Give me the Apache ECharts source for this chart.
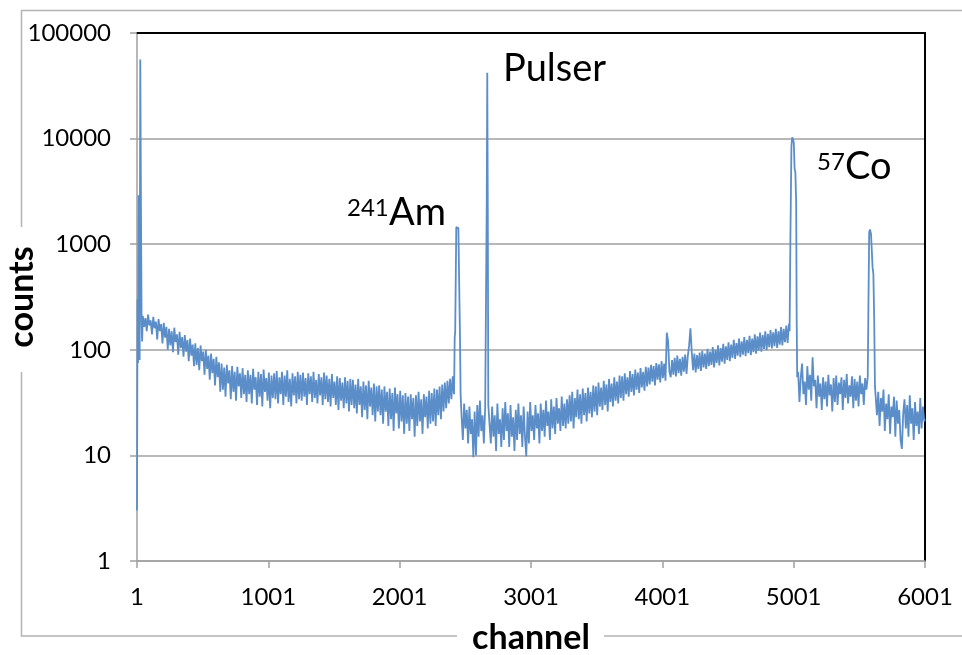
<!DOCTYPE html>
<html>
<head>
<meta charset="utf-8">
<script src="https://cdn.jsdelivr.net/npm/echarts@6/dist/echarts.min.js"></script>
<style>
html,body{margin:0;padding:0;background:#fff;}
#chart{width:962px;height:655px;}
</style>
</head>
<body>
<div id="chart"></div>
<script>
// ---- data ----
const xTicks = [1, 1001, 2001, 3001, 4001, 5001, 6001];
const yTicks = [1, 10, 100, 1000, 10000, 100000];
const bandStep = 10;

const startChannels = [1, 5, 9, 13, 17, 21, 26, 31, 36, 40];
const startCounts   = [3, 300, 75, 2900, 1500, 80, 56000, 2500, 180, 120];

const band1Start = 45;
const band1 = [
  210, 165, 200, 150, 215, 170, 190, 140, 205, 160, 185, 125, 195, 150, 175, 115, 180, 130, 165, 100,
  158, 110, 150, 95, 162, 118, 140, 90, 148, 104, 132, 86, 138, 96, 124, 78, 128, 88, 112, 70,
  115, 72, 104, 64, 110, 78, 96, 58, 100, 66, 88, 52, 92, 60, 82, 46, 86, 55, 76, 40,
  74, 42, 68, 36, 72, 48, 64, 34, 70, 40, 62, 33, 69, 45, 60, 35, 67, 38, 58, 32,
  64, 38, 58, 31, 66, 42, 55, 30, 62, 36, 59, 29, 65, 40, 54, 33, 61, 28, 57, 35,
  60, 34, 63, 31, 55, 38, 62, 30, 57, 36, 64, 32, 53, 29, 60, 37, 56, 31, 62, 34,
  58, 33, 61, 36, 54, 30, 60, 38, 56, 32, 62, 35, 52, 31, 59, 37, 55, 30, 61, 34,
  57, 32, 53, 29, 59, 35, 50, 30, 56, 27, 54, 33, 49, 28, 55, 31, 51, 26, 53, 30,
  52, 28, 47, 25, 53, 30, 45, 23, 50, 27, 46, 22, 51, 29, 44, 24, 48, 21, 45, 26,
  46, 24, 42, 20, 45, 26, 40, 19, 43, 22, 39, 17, 44, 25, 38, 18, 41, 21, 37, 16,
  39, 20, 36, 17, 38, 22, 35, 15, 37, 19, 40, 21, 34, 16, 38, 23, 36, 18, 41, 20,
  39, 21, 43, 19, 42, 24, 45, 22, 47, 26, 49, 28, 51, 31, 53, 34, 56, 38
];

const amChannels = [2420, 2424, 2432, 2440, 2448, 2456, 2460, 2465];
const amCounts   = [130, 150, 1450, 1480, 1420, 1380, 140, 38];

const band2Start = 2472;
const band2 = [24, 14, 31, 18, 27, 13, 29, 16, 22, 9.6, 26, 10, 30, 15, 33, 17, 24, 13, 28];

const pulserChannels = [2660, 2664, 2668, 2672, 2676];
const pulserCounts   = [28, 2500, 42000, 2200, 30];

const band3Start = 2685;
const band3 = [
  20, 13, 29, 15, 24, 11, 31, 16, 22, 12, 28, 14, 32, 17, 25, 12, 30, 15, 23, 11,
  27, 14, 31, 16, 24, 12, 29, 15, 9.8, 26, 13, 32, 17, 24, 14, 30, 18, 25, 13, 31,
  17, 27, 15, 33, 19, 26, 14, 34, 18, 29, 16, 35, 20, 28, 17, 36, 19, 31, 18, 34,
  20, 37, 21, 40, 18, 35, 23, 42, 22, 38, 20, 43, 24, 39, 21, 44, 25, 40, 23, 46,
  26, 45, 24, 49, 29, 44, 27, 51, 30, 47, 26, 53, 32, 48, 29, 55, 33, 50, 31, 57,
  35, 56, 33, 60, 38, 55, 36, 63, 40, 59, 37, 65, 42, 61, 39, 67, 44, 62, 41, 69,
  45, 68, 47, 72, 50, 70, 46, 75, 52, 73, 49, 78, 54, 74, 51, 145, 120, 62, 55, 80,
  58, 84, 56, 88, 60, 82, 57, 86, 62, 90, 59, 87, 110, 160, 95, 64, 92, 61, 89, 66,
  94, 63, 98, 68, 92, 66, 102, 70, 96, 72, 106, 68, 100, 75, 110, 71, 104, 77, 114, 74,
  108, 80, 118, 78, 112, 84, 124, 82, 116, 88, 128, 85, 120, 90, 132, 87, 124, 93, 136, 89,
  128, 95, 140, 92, 134, 98, 146, 96, 138, 102, 150, 99, 142, 106, 154, 103, 146, 108, 158, 104,
  150, 112, 164, 110, 158, 118, 170, 116, 176
];

const co1Channels = [4970, 4976, 4984, 4990, 4996, 5002, 5008, 5014, 5020, 5024, 5028];
const co1Counts   = [150, 1100, 8500, 10300, 9800, 9200, 5200, 4800, 2500, 190, 55];

const band4Start = 5035;
const band4 = [
  62, 32, 55, 74, 38, 50, 30, 70, 42, 58, 33, 85, 45, 52, 28, 57, 36, 48, 27, 55,
  34, 50, 29, 58, 37, 47, 26, 54, 32, 57, 30, 49, 38, 55, 27, 52, 35, 59, 31, 46,
  36, 56, 28, 53, 33, 50, 29, 57, 38, 48, 30, 54, 42
];

const co2Channels = [5565, 5570, 5576, 5582, 5590, 5596, 5602, 5608, 5614, 5620];
const co2Counts   = [55, 240, 1300, 1380, 1250, 1200, 600, 520, 200, 45];

const band5Start = 5625;
const band5 = [
  46, 24, 40, 19, 35, 26, 42, 17, 31, 22, 38, 16, 29, 23, 36, 15, 33, 20, 27, 14,
  11.5, 25, 34, 18, 30, 15, 37, 20, 28, 14, 32, 19, 26, 16, 35, 18, 29, 21
];
const endChannels = [6001];
const endCounts = [22];

// ---- build series data ----
function pairs(chs, vals) { return chs.map((c, i) => [c, vals[i]]); }
function band(start, vals) { return vals.map((v, i) => [start + i * bandStep, v]); }

const spectrum = [].concat(
  pairs(startChannels, startCounts),
  band(band1Start, band1),
  pairs(amChannels, amCounts),
  band(band2Start, band2),
  pairs(pulserChannels, pulserCounts),
  band(band3Start, band3),
  pairs(co1Channels, co1Counts),
  band(band4Start, band4),
  pairs(co2Channels, co2Counts),
  band(band5Start, band5),
  pairs(endChannels, endCounts)
);

const FONT = 'Lato, "Open Sans", sans-serif';
const GRAY = '#a0a0a0';

const chart = echarts.init(document.getElementById('chart'), null, {renderer: 'canvas'});
chart.setOption({
  animation: false,
  backgroundColor: '#fff',
  grid: {left: 137, right: 37, top: 33, bottom: 94, containLabel: false, outerBoundsMode: 'none'},
  xAxis: [{
    type: 'value', min: 1, max: 6001,
    name: 'channel', nameLocation: 'middle', nameGap: 60, nameMoveOverlap: false,
    nameTextStyle: {fontFamily: FONT, fontSize: 34, fontWeight: 'bold', color: '#000'},
    axisLine: {show: true, onZero: false, lineStyle: {color: GRAY, width: 1.5}},
    axisTick: {show: true, length: 7, lineStyle: {color: GRAY, width: 1.5}, customValues: xTicks},
    axisLabel: {fontFamily: FONT, fontSize: 24, color: '#000', margin: 24, customValues: xTicks,
      formatter: v => String(v)},
    splitLine: {show: false}
  }, {
    type: 'value', min: 1, max: 6001, position: 'top',
    axisLine: {show: true, onZero: false, lineStyle: {color: '#000', width: 2}},
    axisTick: {show: false}, axisLabel: {show: false}, splitLine: {show: false}
  }],
  yAxis: [{
    type: 'log', logBase: 10, min: yTicks[0], max: yTicks[yTicks.length - 1],
    name: 'counts', nameLocation: 'middle', nameGap: 98, nameRotate: 90, nameMoveOverlap: false,
    nameTextStyle: {fontFamily: FONT, fontSize: 34, fontWeight: 'bold', color: '#000'},
    axisLine: {show: true, onZero: false, lineStyle: {color: GRAY, width: 1.5}},
    axisTick: {show: true, length: 7, lineStyle: {color: GRAY, width: 1.5}},
    axisLabel: {fontFamily: FONT, fontSize: 24, color: '#000', margin: 26, formatter: v => String(v)},
    splitLine: {show: true, lineStyle: {color: GRAY, width: 1.5}}
  }, {
    type: 'log', logBase: 10, min: 1, max: 100000, position: 'right',
    axisLine: {show: true, onZero: false, lineStyle: {color: '#000', width: 2}},
    axisTick: {show: false}, axisLabel: {show: false}, splitLine: {show: false}
  }],
  graphic: [
    {type: 'polyline', silent: true, shape: {points: [[21.5, 227], [21.5, 10.5], [962, 10.5]]}, style: {stroke: '#b3b3b3', lineWidth: 1.5, fill: null}},
    {type: 'polyline', silent: true, shape: {points: [[21.5, 372], [21.5, 636], [457, 636]]}, style: {stroke: '#b3b3b3', lineWidth: 1.5, fill: null}},
    {type: 'line', silent: true, shape: {x1: 604, y1: 636, x2: 962, y2: 636}, style: {stroke: '#b3b3b3', lineWidth: 1.5}},
    {type: 'text', left: 503, top: 50, style: {text: 'Pulser', font: '38px ' + FONT, fill: '#000'}},
    {type: 'text', left: 347, top: 196, style: {text: '241', font: '24px ' + FONT, fill: '#000'}},
    {type: 'text', left: 389, top: 194, style: {text: 'Am', font: '38px ' + FONT, fill: '#000'}},
    {type: 'text', left: 817, top: 150, style: {text: '57', font: '24px ' + FONT, fill: '#000'}},
    {type: 'text', left: 845, top: 148, style: {text: 'Co', font: '38px ' + FONT, fill: '#000'}}
  ],
  series: [{
    type: 'line',
    data: spectrum,
    showSymbol: false,
    symbol: 'none',
    sampling: null,
    lineStyle: {color: '#5b8ec9', width: 1.8},
    itemStyle: {color: '#5b8ec9'},
    z: 3
  }]
});
</script>
</body>
</html>
